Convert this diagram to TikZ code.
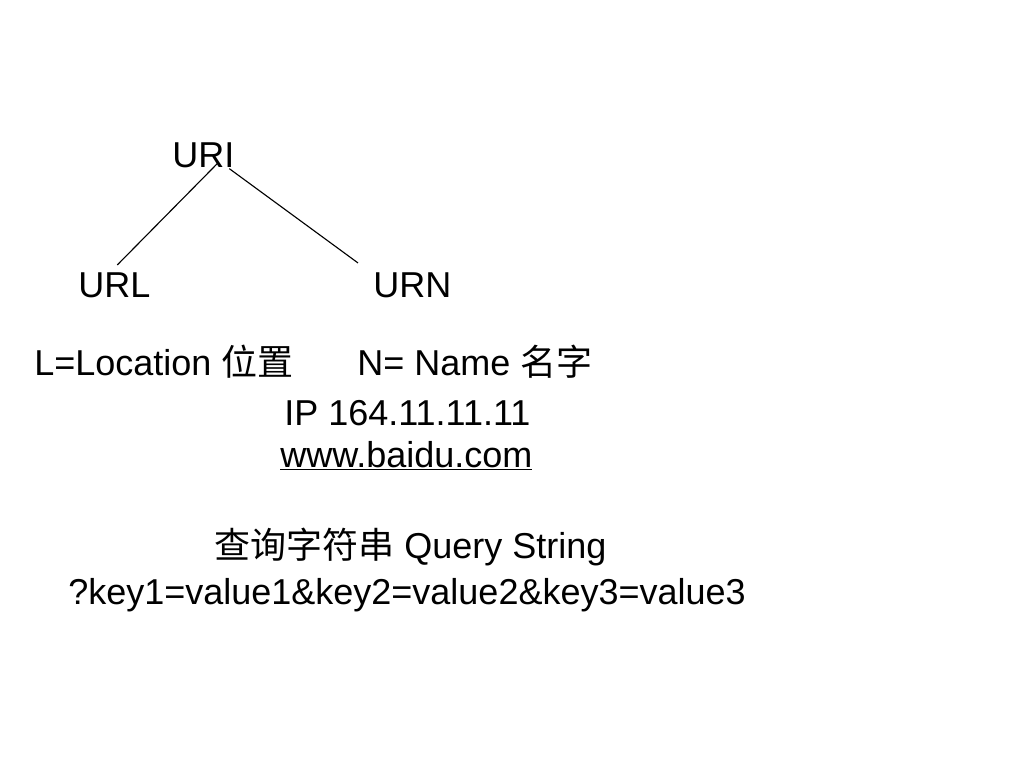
\documentclass[tikz,border=0pt]{standalone}
\usepackage{fontspec}
\setmainfont{Liberation Sans}
\newfontfamily\cjk{Noto Sans CJK SC}
\usepackage{tikz}
\usetikzlibrary{calc}

\begin{document}
\begin{tikzpicture}[x = 0.025cm, y = -0.025cm,
  txt/.style = {anchor=base west, inner sep=0pt, font=\fontsize{25.6}{30}\selectfont}]
\useasboundingbox [fill=white] (0,0) rectangle (1024,768);
% tree
\node [txt] (uri) at (172,167) {URI};
\node [txt] (url) at (78,297) {URL};
\node [txt] (urn) at (373,297) {URN};
\draw [thick] ($(uri.south)+(14,-4)$) -- ($(url.north)+(3,-7)$);
\draw [thick] ($(uri.south)+(26,1)$) -- ($(urn.north west)+(-15,-9)$);
% meaning
\node [txt] (loc) at (34,375) {L=Location {\cjk 位置}};
\node [txt] (name) at (357,375) {N= Name {\cjk 名字}};
\node [txt] (ip) at (284,425) {IP 164.11.11.11};
\node [txt] (www) at (280,467) {\underline{www.baidu.com}};
% query string
\node [txt] (qs) at (214,558) {{\cjk 查询字符串} Query String};
\node [txt] (keys) at (68,604) {?key1=value1\&key2=value2\&key3=value3};
\end{tikzpicture}
\end{document}
